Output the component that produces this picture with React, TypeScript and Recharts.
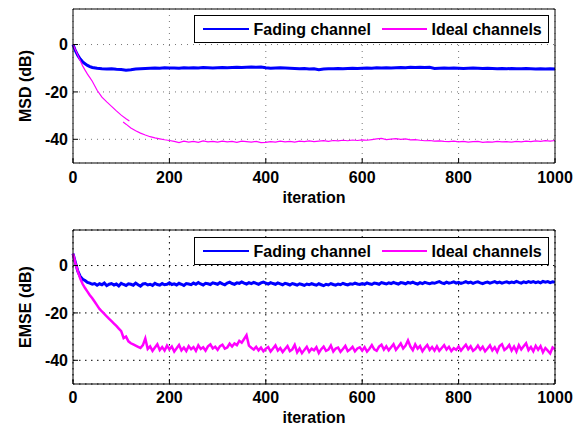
import { LineChart, Line, XAxis, YAxis, CartesianGrid, Legend } from "recharts";

const FONT = "'Liberation Sans', Arial, Helvetica, sans-serif";

const xTicks = [0, 200, 400, 600, 800, 1000];
const yTicks = [-40, -20, 0];
const seriesNames = ["Fading channel", "Ideal channels"];
const seriesColors = ["#0000ff", "#ff00ff"];

// MSD (top plot)
const msdIters = [
  0, 5, 10, 15, 20, 25, 30, 35, 40,
  50, 60, 70, 80, 90, 100, 110, 120, 130, 140,
  150, 160, 170, 180, 190, 200, 210, 220, 230, 240,
  250, 260, 270, 280, 290, 300, 310, 320, 330, 340,
  350, 360, 370, 380, 390, 400, 410, 420, 430, 440,
  450, 460, 470, 480, 490, 500, 510, 520, 530, 540,
  550, 560, 570, 580, 590, 600, 610, 620, 630, 640,
  650, 660, 670, 680, 690, 700, 710, 720, 730, 740,
  750, 760, 770, 780, 790, 800, 810, 820, 830, 840,
  850, 860, 870, 880, 890, 900, 910, 920, 930, 940,
  950, 960, 970, 980, 990, 1000,
];
const fadingMsd = [
  0, -2.6, -4.6, -6.1, -7.3, -8.1, -8.8, -9.3, -9.7,
  -10.0, -10.2, -10.3, -10.2, -10.4, -10.5, -10.8, -10.6, -10.3, -10.2,
  -10.1, -10.0, -9.9, -10.0, -9.8, -9.9, -9.9, -10.0, -9.8, -9.9,
  -9.8, -9.9, -9.7, -9.8, -9.9, -9.8, -9.7, -9.8, -9.7, -9.6,
  -9.7, -9.6, -9.5, -9.6, -9.5, -9.8, -10.0, -9.9, -9.8, -9.9,
  -10.0, -10.1, -10.2, -10.1, -10.3, -10.2, -10.6, -10.3, -10.2, -10.2,
  -10.1, -10.2, -10.1, -10.0, -10.1, -10.0, -9.9, -10.0, -9.8, -9.9,
  -9.8, -9.9, -9.8, -9.7, -9.8, -9.6, -9.7, -9.6, -9.7, -9.6,
  -10.1, -10.0, -9.9, -10.0, -9.9, -10.0, -10.1, -10.0, -9.9, -10.0,
  -10.1, -10.0, -10.1, -10.2, -10.1, -10.2, -10.1, -10.2, -10.2, -10.1,
  -10.2, -10.3, -10.2, -10.3, -10.2, -10.3,
];
const idealMsdHeadIters = [0, 5, 10, 15, 20, 25, 30, 35, 40, 50, 60, 70, 80, 90, 100, 110, 117];
const idealMsdHead = [
  0, -2.2, -4.5, -6.8, -9.0, -10.8, -12.5, -14.0, -15.5, -19.3, -22.2, -24.2, -26.1, -28.0, -29.8, -31.3, -32.3,
];
const idealMsdTailIters = [
  104, 110, 120, 130, 140, 150, 160, 170, 180, 190, 200,
  210, 220, 230, 240, 250, 260, 270, 280, 290, 300,
  310, 320, 330, 340, 350, 360, 370, 380, 390, 400,
  410, 420, 430, 440, 450, 460, 470, 480, 490, 500,
  510, 520, 530, 540, 550, 560, 570, 580, 590, 600,
  610, 620, 630, 640, 650, 660, 670, 680, 690, 700,
  710, 720, 730, 740, 750, 760, 770, 780, 790, 800,
  810, 820, 830, 840, 850, 860, 870, 880, 890, 900,
  910, 920, 930, 940, 950, 960, 970, 980, 990, 1000,
];
const idealMsdTail = [
  -32.7, -33.6, -35.2, -36.4, -37.4, -38.2, -38.9, -39.4, -39.8, -40.2, -40.5,
  -40.9, -41.4, -40.8, -41.2, -40.9, -41.3, -40.7, -41.1, -40.9, -41.2,
  -40.8, -41.1, -40.9, -41.3, -40.8, -41.0, -41.2, -40.9, -41.4, -41.3,
  -41.0, -41.2, -40.8, -41.1, -40.9, -41.2, -40.8, -41.0, -40.7, -41.0,
  -40.8, -40.6, -40.9, -40.5, -40.7, -40.4, -40.6, -40.3, -40.5, -40.2,
  -40.4, -40.1, -39.8, -39.6, -40.1, -39.9, -39.7, -40.0, -39.8, -40.2,
  -40.1, -40.4, -40.6, -40.5, -40.8, -40.7, -40.9, -41.0, -40.8, -41.1,
  -40.9, -41.2, -41.0, -40.9, -41.3, -41.1, -41.2, -40.9, -41.1, -41.0,
  -41.2, -40.9, -41.1, -40.8, -41.0, -40.7, -40.9, -40.6, -40.8, -40.5,
];

// EMSE (bottom plot), one value every 5 iterations
const emseIters = Array.from({ length: 201 }, (_, i) => i * 5);
const fadingEmse = [
  5, 1.2, -2.4, -4.6, -5.8, -6.3, -7.1, -7.4, -7.9, -7.6,
  -8.3, -7.7, -8.1, -7.4, -8.5, -7.9, -7.6, -8.2, -7.8, -8.6,
  -7.5, -8.0, -8.4, -7.7, -7.9, -8.3, -7.4, -8.1, -8.7, -7.8,
  -7.6, -8.2, -7.9, -8.4, -7.5, -8.0, -8.3, -7.6, -8.1, -7.9,
  -7.3, -8.0, -7.7, -8.2, -7.5, -7.9, -8.4, -7.6, -7.8, -8.1,
  -7.4, -7.9, -7.2, -7.8, -8.2, -7.5, -7.7, -8.0, -7.3, -7.6,
  -7.9, -7.2, -7.7, -8.1, -7.4, -7.0, -7.6, -7.9, -7.3, -7.5,
  -6.9, -7.4, -7.8, -7.2, -7.6, -7.1, -7.5, -7.9, -7.3, -7.0,
  -7.4, -7.8, -7.2, -7.6, -7.9, -7.3, -7.7, -8.1, -7.5, -7.8,
  -8.2, -7.6, -7.9, -8.3, -7.7, -8.0, -8.4, -7.8, -8.1, -7.6,
  -8.0, -8.3, -7.7, -8.1, -8.5, -7.9, -8.2, -7.6, -8.0, -8.3,
  -7.8, -8.1, -7.5, -7.9, -8.2, -7.7, -7.9, -7.4, -7.8, -8.0,
  -7.6, -7.9, -7.3, -7.7, -8.0, -7.4, -7.6, -7.9, -7.2, -7.5,
  -7.8, -7.3, -7.6, -7.1, -7.5, -7.8, -7.2, -7.4, -7.7, -7.1,
  -7.4, -7.0, -7.5, -7.8, -7.2, -7.6, -7.1, -7.4, -7.7, -7.3,
  -7.5, -7.1, -6.8, -7.3, -7.6, -7.0, -7.4, -7.2, -6.9, -7.4,
  -7.1, -7.5, -7.2, -6.8, -7.3, -7.0, -7.5, -7.1, -6.9, -7.3,
  -7.6, -7.2, -7.0, -7.4, -7.1, -6.8, -7.3, -7.0, -7.4, -7.1,
  -6.9, -7.3, -7.0, -7.2, -6.7, -7.1, -7.4, -6.9, -7.2, -6.8,
  -7.1, -6.8, -7.2, -6.9, -7.3, -6.7, -7.0, -6.8, -7.2, -6.9, -7.0,
];
const idealEmse = [
  5, 1, -2.5, -5.5, -7.8, -9.5, -11, -12.5, -13.8, -15.3,
  -16.8, -18.3, -19.4, -20.4, -21.5, -22.5, -23.5, -24.5, -25.5, -26.6,
  -27.7, -30.6, -30.0, -32.0, -32.8, -33.3, -33.8, -34.3, -34.8, -33.6,
  -30.8, -35.2, -34.1, -36.0, -34.6, -33.2, -35.7, -34.4, -35.9, -33.8,
  -35.4, -34.2, -36.3, -34.9, -33.5, -35.8, -34.6, -36.1, -34.0, -35.3,
  -34.4, -36.0, -33.7, -35.2, -34.5, -35.9, -34.1, -33.3, -35.0, -34.3,
  -35.6, -34.0, -33.4, -35.1, -34.6, -33.0, -34.2, -32.9, -33.6, -31.8,
  -32.6, -31.0, -29.4, -33.8, -34.7, -35.5, -34.3, -35.8, -34.6, -36.2,
  -35.1, -34.4, -36.3, -35.0, -33.7, -35.9, -34.8, -36.5, -35.2, -34.0,
  -36.1, -35.4, -33.5, -36.6, -35.0, -37.0, -35.6, -34.3, -36.4, -35.1,
  -35.8, -34.5, -36.9, -35.3, -34.2, -36.0, -35.5, -33.8, -36.3, -35.0,
  -34.6, -36.4, -35.2, -33.9, -36.1, -35.4, -34.3, -36.2, -35.0, -34.5,
  -35.9, -34.4, -36.3, -35.1, -33.6, -35.4, -36.0, -34.2, -33.4, -35.5,
  -34.1, -35.8, -34.5, -33.2, -35.6, -34.3, -32.9, -35.0, -33.8, -31.6,
  -34.2, -35.7, -33.3, -35.1, -34.0, -36.2, -34.7, -33.5, -35.6, -34.4,
  -35.9, -34.1, -36.0, -34.8, -33.6, -35.5, -34.3, -36.1, -34.9, -35.6,
  -34.2, -35.9, -34.6, -33.4, -35.3, -34.1, -36.0, -35.2, -33.8, -35.5,
  -34.3, -36.2, -35.0, -33.7, -35.8, -34.5, -36.4, -34.0, -33.2, -35.6,
  -34.8, -33.5, -35.9, -34.2, -36.3, -33.6, -35.4, -34.1, -32.8, -35.7,
  -34.4, -36.2, -33.9, -35.5, -34.0, -36.6, -34.8, -35.9, -37.1, -34.6, -35.3,
];

const pair = (xs: number[], ys: number[]) => xs.map((iter, i) => ({ iter, v: ys[i] }));

const tickStyle = { fill: "#000", fontSize: 16, fontWeight: 700, fontFamily: FONT };

function LegendBox() {
  const text = { position: "absolute" as const, top: 4, lineHeight: "20px", whiteSpace: "nowrap" as const };
  return (
    <div
      style={{
        position: "relative",
        width: 355,
        height: 28,
        boxSizing: "border-box",
        border: "1.5px solid #000",
        background: "#fff",
        fontFamily: FONT,
        fontWeight: 700,
        fontSize: 16,
        color: "#000",
      }}
    >
      <div style={{ position: "absolute", left: 7.5, top: 11.5, width: 46, height: 2.5, background: seriesColors[0] }} />
      <span style={{ ...text, left: 58.5 }}>{seriesNames[0]}</span>
      <div style={{ position: "absolute", left: 186.5, top: 12, width: 45, height: 1.5, background: seriesColors[1] }} />
      <span style={{ ...text, left: 236.5 }}>{seriesNames[1]}</span>
    </div>
  );
}

function Panel({
  height,
  top,
  axisHeight,
  yLabel,
  labelOffset,
  tickMargin,
  legendTop,
  grid,
  lines,
}: {
  height: number;
  top: number;
  axisHeight: number;
  yLabel: string;
  labelOffset: number;
  tickMargin: number;
  legendTop: number;
  grid: { stroke: string; dash: string };
  lines: React.ReactNode;
}) {
  return (
    <LineChart width={582} height={height} margin={{ top, right: 26, bottom: 0, left: 0 }}>
      <CartesianGrid
        xAxisId="b"
        yAxisId="l"
        stroke={grid.stroke}
        strokeDasharray={grid.dash}
        strokeWidth={1}
      />
      <XAxis
        xAxisId="b"
        dataKey="iter"
        type="number"
        domain={[0, 1000]}
        ticks={xTicks}
        height={axisHeight}
        tickSize={-5}
        tickMargin={tickMargin}
        tick={tickStyle}
        axisLine={{ stroke: "#000" }}
        tickLine={{ stroke: "#000" }}
        label={{ value: "iteration", position: "insideBottom", offset: labelOffset, style: tickStyle }}
      />
      <XAxis
        xAxisId="t"
        orientation="top"
        type="number"
        domain={[0, 1000]}
        ticks={xTicks}
        height={1}
        tickSize={-5}
        tick={false}
        axisLine={{ stroke: "#000" }}
        tickLine={{ stroke: "#000" }}
      />
      <YAxis
        yAxisId="l"
        type="number"
        domain={[-50, 15]}
        ticks={yTicks}
        width={73}
        tickSize={-5}
        tickMargin={10}
        tick={tickStyle}
        axisLine={{ stroke: "#000" }}
        tickLine={{ stroke: "#000" }}
        label={{
          value: yLabel,
          angle: -90,
          position: "insideLeft",
          offset: 25,
          style: { ...tickStyle, textAnchor: "middle" },
        }}
      />
      <YAxis
        yAxisId="r"
        orientation="right"
        type="number"
        domain={[-50, 15]}
        ticks={yTicks}
        width={1}
        tickSize={-5}
        tick={false}
        axisLine={{ stroke: "#000" }}
        tickLine={{ stroke: "#000" }}
      />
      <Legend
        layout="vertical"
        verticalAlign="middle"
        align="center"
        wrapperStyle={{ left: 194, top: legendTop, width: 355, height: 28 }}
        content={() => <LegendBox />}
      />
      {lines}
    </LineChart>
  );
}

export default function App() {
  return (
    <div style={{ position: "absolute", left: 0, top: 0, width: 582, height: 429, background: "#fff" }}>
      <Panel
        height={215}
        top={8}
        axisHeight={52}
        yLabel="MSD (dB)"
        labelOffset={12}
        tickMargin={14}
        legendTop={15}
        grid={{ stroke: "#777", dash: "1 5" }}
        lines={[
          <Line
            key="f"
            xAxisId="b"
            yAxisId="l"
            data={pair(msdIters, fadingMsd)}
            dataKey="v"
            name={seriesNames[0]}
            stroke={seriesColors[0]}
            strokeWidth={3}
            dot={false}
            isAnimationActive={false}
          />,
          <Line
            key="ih"
            xAxisId="b"
            yAxisId="l"
            data={pair(idealMsdHeadIters, idealMsdHead)}
            dataKey="v"
            name={seriesNames[1]}
            stroke={seriesColors[1]}
            strokeWidth={1.2}
            dot={false}
            isAnimationActive={false}
          />,
          <Line
            key="it"
            xAxisId="b"
            yAxisId="l"
            data={pair(idealMsdTailIters, idealMsdTail)}
            dataKey="v"
            legendType="none"
            stroke={seriesColors[1]}
            strokeWidth={1.2}
            dot={false}
            isAnimationActive={false}
          />,
        ]}
      />
      <Panel
        height={214}
        top={14}
        axisHeight={45}
        yLabel="EMSE (dB)"
        labelOffset={6}
        tickMargin={13}
        legendTop={22}
        grid={{ stroke: "#000", dash: "1.5 4.5" }}
        lines={[
          <Line
            key="f"
            xAxisId="b"
            yAxisId="l"
            data={pair(emseIters, fadingEmse)}
            dataKey="v"
            name={seriesNames[0]}
            stroke={seriesColors[0]}
            strokeWidth={3}
            dot={false}
            isAnimationActive={false}
          />,
          <Line
            key="i"
            xAxisId="b"
            yAxisId="l"
            data={pair(emseIters, idealEmse)}
            dataKey="v"
            name={seriesNames[1]}
            stroke={seriesColors[1]}
            strokeWidth={2.5}
            dot={false}
            isAnimationActive={false}
          />,
        ]}
      />
    </div>
  );
}
